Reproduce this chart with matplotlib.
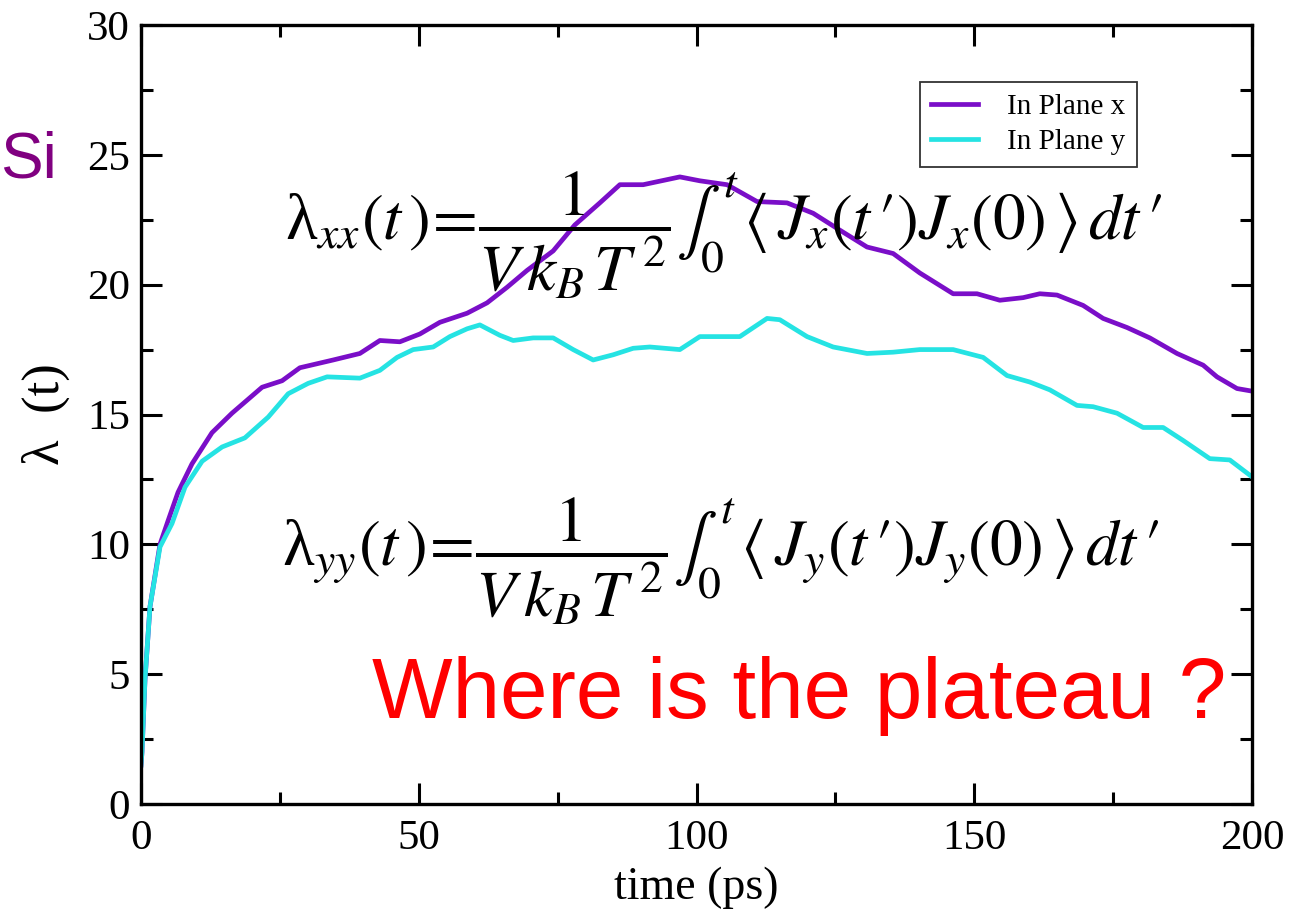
import matplotlib

matplotlib.use("Agg")
import matplotlib.pyplot as plt
from matplotlib.ticker import MultipleLocator

plt.rcParams["font.family"] = ["Liberation Serif", "DejaVu Serif"]
plt.rcParams["mathtext.fontset"] = "stix"

FIG_W, FIG_H = 1310, 916

# lambda_xx(t), "In Plane x"
time_x = [0.0, 0.18, 0.72, 1.62, 3.42, 4.86, 6.66, 9.18, 12.78, 16.38, 21.8, 25.4,
          28.6, 34.6, 39.4, 43.0, 46.6, 50.2, 53.8, 58.7, 62.3, 65.9, 69.5, 74.2,
          78.1, 82.6, 86.2, 90.4, 97.0, 100.6, 105.5, 110.9, 116.3, 121.0, 125.8,
          130.7, 135.4, 140.2, 146.2, 150.5, 154.6, 158.8, 161.8, 164.9, 169.6,
          173.2, 177.5, 181.6, 186.5, 191.2, 193.7, 197.3, 200.0]
lambda_x = [1.5, 2.0, 4.8, 7.6, 10.0, 10.9, 12.0, 13.1, 14.3, 15.05, 16.05, 16.3,
            16.8, 17.1, 17.35, 17.85, 17.8, 18.1, 18.55, 18.9, 19.3, 19.9, 20.55, 21.3,
            22.3, 23.15, 23.85, 23.85, 24.15, 24.0, 23.85, 23.2, 23.15, 22.75, 22.1,
            21.45, 21.2, 20.45, 19.65, 19.65, 19.4, 19.5, 19.65, 19.6, 19.2,
            18.7, 18.35, 17.95, 17.35, 16.9, 16.45, 16.0, 15.9]

# lambda_yy(t), "In Plane y"
time_y = [0.0, 0.18, 0.72, 1.62, 3.42, 5.58, 7.92, 11.0, 14.6, 18.7, 22.9, 26.5,
          30.1, 33.5, 39.4, 43.0, 46.1, 49.0, 52.6, 55.6, 58.7, 61.0, 64.6, 67.0,
          70.6, 74.2, 77.8, 81.4, 85.0, 88.6, 91.6, 97.0, 100.6, 107.8, 112.7,
          115.0, 119.9, 124.6, 130.7, 135.4, 140.2, 146.2, 151.6, 155.9, 160.0,
          163.6, 168.5, 171.4, 175.7, 180.4, 184.0, 187.6, 192.4, 196.0, 200.0]
lambda_y = [1.5, 2.0, 4.8, 7.6, 9.9, 10.8, 12.2, 13.2, 13.75, 14.1, 14.9, 15.8,
            16.2, 16.45, 16.4, 16.7, 17.2, 17.5, 17.6, 18.0, 18.3, 18.45, 18.05, 17.85,
            17.95, 17.95, 17.5, 17.1, 17.3, 17.55, 17.6, 17.5, 18.0, 18.0, 18.7,
            18.65, 18.0, 17.6, 17.35, 17.4, 17.5, 17.5, 17.2, 16.5, 16.25,
            15.95, 15.35, 15.3, 15.05, 14.5, 14.5, 14.0, 13.3, 13.25, 12.6]

series_labels = ["In Plane x", "In Plane y"]
series_colors = ["#7a0ec8", "#25e3e3"]

x_ticks = [0, 50, 100, 150, 200]
y_ticks = [0, 5, 10, 15, 20, 25, 30]

eq_xx = (r"λ$_{xx}(t\,)\!=\!\dfrac{1}{V\,k_B\,T^{\,2}}\int_0^t\,\langle\,J_x(t\,′)"
         r"J_x(0)\,\rangle\,dt\,′$")
eq_yy = (r"λ$_{yy}(t\,)\!=\!\dfrac{1}{V\,k_B\,T^{\,2}}\int_0^t\,\langle\,J_y(t\,′)"
         r"J_y(0)\,\rangle\,dt\,′$")


def px(x, y):
    return x / FIG_W, 1 - y / FIG_H


fig = plt.figure(figsize=(FIG_W / 100, FIG_H / 100), dpi=100)
ax = fig.add_axes([141 / FIG_W, 112 / FIG_H, 1111 / FIG_W, 779 / FIG_H])

ax.plot(time_x, lambda_x, color=series_colors[0], linewidth=3.4, label=series_labels[0])
ax.plot(time_y, lambda_y, color=series_colors[1], linewidth=3.4, label=series_labels[1])

ax.set_xlim(0, 200)
ax.set_ylim(0, 30)
ax.set_xticks(x_ticks)
ax.set_yticks(y_ticks)
ax.xaxis.set_minor_locator(MultipleLocator(25))
ax.yaxis.set_minor_locator(MultipleLocator(2.5))
ax.tick_params(which="both", direction="in", top=True, right=True, width=2.2, labelsize=31)
ax.tick_params(which="major", length=15)
ax.tick_params(which="minor", length=8.5)
ax.tick_params(axis="x", which="major", pad=11)
ax.tick_params(axis="y", which="major", pad=8)
for spine in ax.spines.values():
    spine.set_linewidth(2.4)

ax.set_xlabel("time (ps)", fontsize=33, labelpad=6)
ax.set_ylabel("λ  (t)", fontsize=38, labelpad=12)

leg = ax.legend(
    loc="upper right",
    bbox_to_anchor=(0.8965, 0.927),
    fontsize=21,
    frameon=True,
    fancybox=False,
    handlelength=1.6,
    handletextpad=1.0,
    labelspacing=0.3,
    borderpad=0.4,
    borderaxespad=0,
)
leg.get_frame().set_edgecolor("black")
leg.get_frame().set_linewidth(1.3)

fig.text(*px(285, 240), eq_xx, fontsize=47, ha="left", va="baseline")
fig.text(*px(282, 566), eq_yy, fontsize=47, ha="left", va="baseline")

fig.text(*px(0, 177), "Si", fontsize=46, color="#800080", family="Liberation Sans",
         ha="left", va="baseline")
fig.text(*px(372, 718), "Where is the plateau ?", fontsize=61.5, color="red",
         family="Liberation Sans", ha="left", va="baseline")

fig.savefig("out.png", dpi=100)
